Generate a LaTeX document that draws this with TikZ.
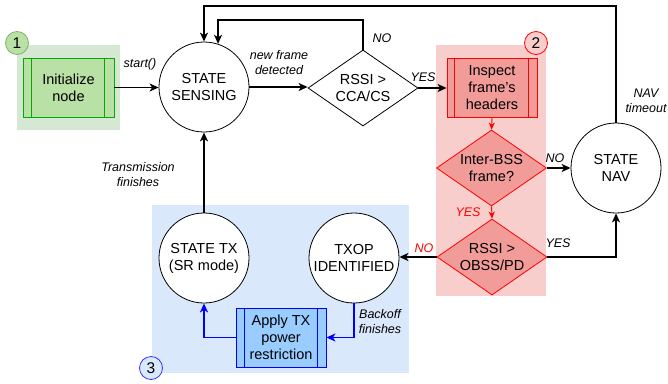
\documentclass[tikz,border=0pt]{standalone}
\usepackage{fontspec}
\setmainfont{Liberation Sans}
\usetikzlibrary{shapes.geometric,arrows.meta}
\definecolor{gbg}{HTML}{D5E8D4}
\definecolor{gfill}{HTML}{B9E0A5}
\definecolor{gline}{HTML}{00AA00}
\definecolor{gbadge}{HTML}{82B366}
\definecolor{rbg}{HTML}{F8CECC}
\definecolor{rfill}{HTML}{F19C99}
\definecolor{rline}{HTML}{FF0000}
\definecolor{bbg}{HTML}{DAE8FC}
\definecolor{bfill}{HTML}{99CCFF}
\definecolor{bline}{HTML}{0000FF}
\definecolor{bbadge}{HTML}{3333FF}
\tikzset{
  mainfont/.style={font=\fontsize{14.5}{17}\selectfont},
  state/.style={circle, draw, line width=0.8pt, fill=white, minimum size=90pt, inner sep=0pt, align=center, mainfont},
  dec/.style={diamond, draw, line width=0.8pt, aspect=1.45, minimum width=110pt, minimum height=76pt, inner sep=0pt, align=center, mainfont},
  proc/.style={rectangle, draw, line width=0.8pt, minimum width=90pt, minimum height=59pt, inner sep=0pt, align=center, mainfont},
  lbl/.style={font=\fontsize{12.5}{15}\selectfont\itshape, align=center, inner sep=0pt},
  badge/.style={circle, draw, line width=0.8pt, minimum size=23pt, inner sep=0pt, font=\fontsize{15.5}{17}\selectfont},
  conn/.style={line width=1.6pt, -{Stealth[length=9pt,width=8pt,inset=2.5pt]}},
  redconn/.style={draw=rline, line width=0.9pt, -{Stealth[length=7pt,width=6pt,inset=2pt]}},
  blueconn/.style={draw=bline, line width=1.6pt, -{Stealth[length=9pt,width=8pt,inset=2.5pt]}},
}
\begin{document}
\begin{tikzpicture}[x=1pt,y=-1pt]
\useasboundingbox (0,0) rectangle (668,383);
% backgrounds
\fill[gbg] (17,45) rectangle (120,130);
\fill[rbg] (436,45) rectangle (546,296);
\fill[bbg] (152,205) rectangle (409,373);
% badges
\node[badge, draw=gbadge, fill=gfill] (b1) at (17,43) {1};
\node[badge, draw=rline, fill=rbg] (b2) at (536,43) {2};
\node[badge, draw=bbadge, fill=bbg] (b3) at (151,368) {3};
% process boxes
\node[proc, draw=gline, fill=gfill, minimum width=91pt] (init) at (68.5,87.5) {Initialize\\node};
\draw[gline, line width=0.8pt] ([xshift=9pt]init.north west) -- ([xshift=9pt]init.south west)
  ([xshift=-10pt]init.north east) -- ([xshift=-10pt]init.south east);
\node[proc, draw=rline, fill=rfill] (insp) at (492,87.5) {Inspect\\frame's\\headers};
\draw[rline, line width=0.8pt] ([xshift=8pt]insp.north west) -- ([xshift=8pt]insp.south west)
  ([xshift=-9pt]insp.north east) -- ([xshift=-9pt]insp.south east);
\node[proc, draw=bline, fill=bfill] (apply) at (281,337.5) {Apply TX\\power\\restriction};
\draw[bline, line width=0.8pt] ([xshift=9pt]apply.north west) -- ([xshift=9pt]apply.south west)
  ([xshift=-9pt]apply.north east) -- ([xshift=-9pt]apply.south east);
% states
\node[state] (sense) at (204,87) {STATE\\SENSING};
\node[state] (nav) at (616,168) {STATE\\NAV};
\node[state] (tx) at (204,258) {STATE TX\\(SR mode)};
\node[state] (txop) at (354,258) {TXOP\\IDENTIFIED};
% decisions
\node[dec, fill=white] (cca) at (363,88) {RSSI >\\CCA/CS};
\node[dec, draw=rline, fill=rfill] (inter) at (491.5,168) {Inter-BSS\\frame?};
\node[dec, draw=rline, fill=rfill] (obss) at (492,257) {RSSI >\\OBSS/PD};
% connectors
\coordinate (lo1) at (0,20);
\coordinate (lo2) at (0,6);
\draw[conn] (init.east) -- (init.east -| sense.west);
\draw[conn] (sense.east) -- (sense.east -| cca.west);
\draw[conn] (cca.east) -- (cca.east -| insp.west);
\draw[conn] (cca.north) -- (cca.north |- lo1) -| (sense.72);
\draw[conn] (nav.north) -- (nav.north |- lo2) -| (sense.north);
\draw[redconn] (insp.south) -- (inter.north);
\draw[redconn] (inter.south) -- (obss.north);
\draw[conn] (inter.east) -- (nav.west);
\draw[conn] (obss.west) -- (obss.west -| txop.east);
\draw[conn] (obss.east) -| (nav.south);
\draw[conn] (tx.north) -- (sense.south);
\draw[blueconn] (txop.south) |- (apply.east);
\draw[blueconn] (apply.west) -| (tx.south);
% labels
\node[lbl] (l1) at (140,64) {start()};
\node[lbl] (l2) at (279,63) {new frame\\detected};
\node[lbl] (l3) at (382,38) {NO};
\node[lbl] (l4) at (423,77) {YES};
\node[lbl] (l5) at (646,101) {NAV\\timeout};
\node[lbl] (l6) at (555,158) {NO};
\node[lbl, text=rline] (l7) at (468,212) {YES};
\node[lbl, text=rline] (l8) at (424,248) {NO};
\node[lbl] (l9) at (558,243) {YES};
\node[lbl] (l10) at (138,175) {Transmission\\finishes};
\node[lbl] (l11) at (380,322) {Backoff\\finishes};
\end{tikzpicture}
\end{document}
